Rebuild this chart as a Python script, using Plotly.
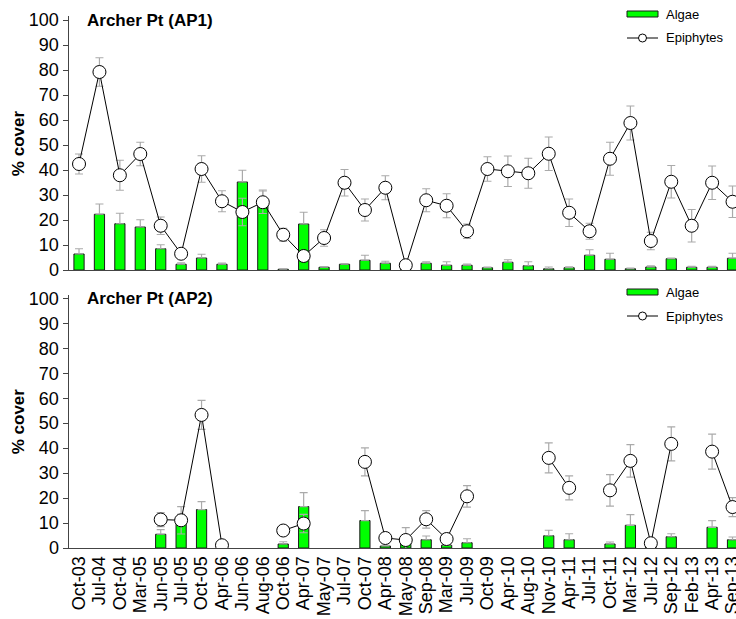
import plotly.graph_objects as go

dates = ["Oct-03", "Jul-04", "Oct-04", "Mar-05", "Jun-05", "Jul-05", "Oct-05", "Apr-06",
         "Jun-06", "Aug-06", "Oct-06", "Apr-07", "May-07", "Jul-07", "Oct-07", "Apr-08",
         "May-08", "Sep-08", "Mar-09", "Jul-09", "Oct-09", "Apr-10", "Aug-10", "Nov-10",
         "Apr-11", "Jul-11", "Oct-11", "Mar-12", "Jul-12", "Sep-12", "Feb-13", "Apr-13", "Sep-13"]

# AP1
ap1_algae = [6.4, 22.3, 18.5, 17.2, 8.5, 2.3, 4.8, 2.3, 35.2, 27.0, 0.3, 18.4, 1.1, 2.3,
             3.9, 2.7, 0.2, 2.7, 1.9, 1.9, 0.9, 3.1, 1.7, 0.5, 0.9, 5.9, 4.3, 0.5, 1.2,
             4.5, 1.1, 1.1, 4.7]
ap1_algae_se = [2.1, 4.1, 4.2, 2.9, 1.6, 0.6, 1.5, 0.5, 4.7, 5.0, 0.2, 4.7, 0.3, 0.3,
                2.0, 0.8, 0.1, 0.6, 1.4, 0.5, 0.3, 1.0, 1.6, 0.7, 0.4, 2.2, 2.4, 0.3, 0.5,
                0.3, 0.4, 0.4, 2.0]
ap1_epi = [42.4, 79.2, 37.9, 46.4, 17.7, 6.5, 40.4, 27.5, 23.2, 27.1, 14.1, 5.6, 12.8, 34.9,
           24.0, 32.9, 1.9, 27.9, 25.7, 15.5, 40.4, 39.5, 38.7, 46.5, 22.9, 15.5, 44.5, 58.8,
           11.6, 35.3, 17.7, 34.9, 27.3]
ap1_epi_se = [4.0, 5.7, 6.0, 4.7, 3.5, 1.0, 5.3, 4.2, 5.5, 4.5, 2.6, 1.5, 3.3, 5.3,
              4.4, 4.8, 0.5, 4.6, 4.8, 2.9, 4.9, 6.1, 6.0, 6.7, 5.5, 3.2, 6.6, 6.8,
              3.5, 6.5, 6.5, 6.7, 6.3]

# AP2
N = None
ap2_algae = [N, N, N, N, 5.5, 9.5, 15.4, 0.0, N, N, 1.6, 16.6, N, N, 11.0, 0.8, 2.0, 3.3,
             1.1, 2.1, N, N, N, 4.9, 3.3, N, 1.6, 9.1, 2.0, 4.5, N, 8.3, 3.3]
ap2_algae_se = [N, N, N, N, 1.9, 4.0, 3.2, 0.0, N, N, 0.9, 5.6, N, N, 4.0, 0.3, 1.0, 1.5,
                0.4, 1.6, N, N, N, 2.2, 2.4, N, 0.8, 4.3, 0.5, 1.2, N, 2.7, 1.1]
ap2_epi = [N, N, N, N, 11.4, 11.1, 53.3, 1.1, N, N, 7.0, 9.8, N, N, 34.5, 4.0, 3.2, 11.5,
           3.6, 20.7, N, N, N, 36.1, 24.1, N, 23.1, 34.9, 1.9, 41.7, N, 38.6, 16.4]
ap2_epi_se = [N, N, N, N, 2.8, 5.5, 5.8, 0.3, N, N, 0.8, 3.7, N, N, 5.6, 0.8, 5.0, 3.5,
              0.8, 4.3, N, N, N, 6.0, 4.8, N, 6.3, 6.5, 0.5, 6.8, N, 7.0, 3.8]

titles = ["Archer Pt (AP1)", "Archer Pt (AP2)"]
yticks = [0, 10, 20, 30, 40, 50, 60, 70, 80, 90, 100]

W, H = 736, 619
FONT = "Liberation Sans, Arial, sans-serif"
GREEN = "#00ff00"
ERR = "#aaaaaa"
AXC = "#444444"

fig = go.Figure()

panels = [
    (ap1_algae, ap1_algae_se, ap1_epi, ap1_epi_se, "x", "y"),
    (ap2_algae, ap2_algae_se, ap2_epi, ap2_epi_se, "x2", "y2"),
]
for alg, alg_se, epi, epi_se, xa, ya in panels:
    fig.add_trace(go.Bar(
        x=list(range(len(dates))), y=alg, width=0.5, xaxis=xa, yaxis=ya,
        marker=dict(color=GREEN, line=dict(color="#1a1a1a", width=1)),
        error_y=dict(type="data", array=alg_se, arrayminus=[0] * len(alg_se), symmetric=False,
                     color=ERR, thickness=1.2, width=4),
        showlegend=False, cliponaxis=True))
    fig.add_trace(go.Scatter(
        x=list(range(len(dates))), y=epi, xaxis=xa, yaxis=ya, mode="lines+markers",
        connectgaps=False,
        line=dict(color="black", width=1),
        marker=dict(symbol="circle", size=13, color="white", line=dict(color="black", width=1)),
        error_y=dict(type="data", array=epi_se, color=ERR, thickness=1.2, width=4),
        showlegend=False, cliponaxis=True))

def py(px):
    return 1 - px / H

x0 = 68.5 / W
xrange_ = [-0.515, 32.17]
common_x = dict(range=xrange_, domain=[x0, 1], showline=True, linecolor=AXC, linewidth=1,
                ticks="", showgrid=False, zeroline=False, tickmode="array",
                tickvals=list(range(len(dates))), ticktext=dates, tickangle=-90,
                ticklabeloverflow="allow",
                tickfont=dict(family=FONT, size=18, color="black"), automargin=False)
common_y = dict(range=[0, 101.5], showline=True, linecolor=AXC, linewidth=1, ticks="outside",
                ticklen=5, tickcolor=AXC, tickvals=yticks, showgrid=False, zeroline=False,
                tickfont=dict(family=FONT, size=18, color="black"), automargin=False)

top_dom = [py(270), py(16.25)]
bot_dom = [py(548), py(294.6)]

fig.update_layout(
    width=W, height=H, margin=dict(l=0, r=0, t=0, b=0),
    paper_bgcolor="white", plot_bgcolor="white", barmode="overlay",
    xaxis=dict(common_x, anchor="y", showticklabels=False),
    yaxis=dict(common_y, domain=top_dom, anchor="x"),
    xaxis2=dict(common_x, anchor="y2", showticklabels=True),
    yaxis2=dict(common_y, domain=bot_dom, anchor="x2"),
    font=dict(family=FONT, color="black"),
)

annotations = []
shapes = []
for i, lg_y in enumerate([14, 292]):
    top_px = 16.25 if i == 0 else 294.6
    bot_px = 270 if i == 0 else 548
    annotations.append(dict(text="<b>" + titles[i] + "</b>", xref="paper", yref="paper",
                            x=85 / W, y=py(top_px + 4), xanchor="left", yanchor="middle",
                            showarrow=False, font=dict(family=FONT, size=17, color="black")))
    annotations.append(dict(text="<b>% cover</b>", xref="paper", yref="paper",
                            x=18 / W, y=py((top_px + bot_px) / 2), textangle=-90,
                            xanchor="center", yanchor="middle", showarrow=False,
                            font=dict(family=FONT, size=17, color="black")))
    # legend
    shapes.append(dict(type="rect", xref="paper", yref="paper",
                       x0=627 / W, x1=658 / W, y0=py(lg_y + 3), y1=py(lg_y - 3),
                       fillcolor=GREEN, line=dict(color="#1a1a1a", width=1)))
    annotations.append(dict(text="Algae", xref="paper", yref="paper", x=664 / W, y=py(lg_y),
                            xanchor="left", yanchor="middle", showarrow=False,
                            font=dict(family=FONT, size=13, color="black")))
    ey = lg_y + 24
    shapes.append(dict(type="line", xref="paper", yref="paper", x0=627 / W, x1=658 / W,
                       y0=py(ey), y1=py(ey), line=dict(color="black", width=1)))
    shapes.append(dict(type="circle", xref="paper", yref="paper", x0=638.5 / W, x1=646.5 / W,
                       y0=py(ey + 4), y1=py(ey - 4), fillcolor="white",
                       line=dict(color="black", width=1)))
    annotations.append(dict(text="Epiphytes", xref="paper", yref="paper", x=664 / W, y=py(ey),
                            xanchor="left", yanchor="middle", showarrow=False,
                            font=dict(family=FONT, size=13, color="black")))

fig.update_layout(annotations=annotations, shapes=shapes)
fig.write_html("out.html")
